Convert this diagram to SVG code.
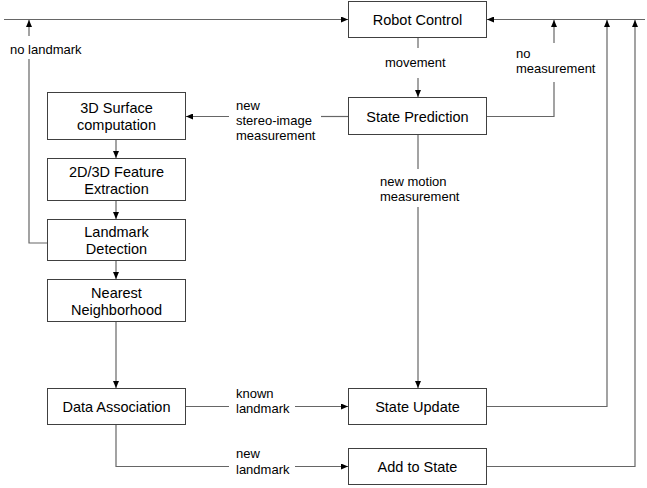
<svg xmlns="http://www.w3.org/2000/svg" width="647" height="488" viewBox="0 0 647 488">
<style>
.box{fill:#fff;stroke:#404040;stroke-width:1}
.t{font-family:"Liberation Sans",Arial,sans-serif;font-size:14.5px;fill:#000;text-anchor:middle}
.l{font-family:"Liberation Sans",Arial,sans-serif;font-size:13px;fill:#000}
.c{fill:none;stroke:#666;stroke-width:1.2}
</style>
<defs>
<marker id="a" markerUnits="userSpaceOnUse" markerWidth="7" markerHeight="6" refX="7" refY="3" orient="auto">
<path d="M0,0 L7,3 L0,6 z" fill="#000"/>
</marker>
</defs>
<g id="connectors">
<path class="c" d="M4,19.5 H348" marker-end="url(#a)"/>
<path class="c" d="M645,19.5 H487" marker-end="url(#a)"/>
<path class="c" d="M418,37 V48"/>
<path class="c" d="M418,78 V97" marker-end="url(#a)"/>
<path class="c" d="M487,116.5 H554 V82"/>
<path class="c" d="M554,43 V20" marker-end="url(#a)"/>
<path class="c" d="M348,116.5 H321"/>
<path class="c" d="M229,116.5 H186" marker-end="url(#a)"/>
<path class="c" d="M418,134 V169"/>
<path class="c" d="M418,207 V388" marker-end="url(#a)"/>
<path class="c" d="M116,140 V158" marker-end="url(#a)"/>
<path class="c" d="M116,201 V219" marker-end="url(#a)"/>
<path class="c" d="M116,261 V279" marker-end="url(#a)"/>
<path class="c" d="M116,322 V388" marker-end="url(#a)"/>
<path class="c" d="M47,243 H29 V59"/>
<path class="c" d="M29,36 V20" marker-end="url(#a)"/>
<path class="c" d="M186,406.5 H229"/>
<path class="c" d="M295,406.5 H348" marker-end="url(#a)"/>
<path class="c" d="M116,424 V466.5 H229"/>
<path class="c" d="M295,466.5 H348" marker-end="url(#a)"/>
<path class="c" d="M487,406.5 H607 V20" marker-end="url(#a)"/>
<path class="c" d="M487,466.5 H635 V20" marker-end="url(#a)"/>
<text class="l" x="10" y="54">no landmark</text>
<text class="l" x="385" y="67">movement</text>
<text class="l" x="516" y="58">no</text>
<text class="l" x="516" y="73">measurement</text>
<text class="l" x="236" y="110">new</text>
<text class="l" x="236" y="125">stereo-image</text>
<text class="l" x="236" y="140">measurement</text>
<text class="l" x="380" y="186">new motion</text>
<text class="l" x="380" y="201">measurement</text>
<text class="l" x="236" y="398">known</text>
<text class="l" x="236" y="413">landmark</text>
<text class="l" x="236" y="458">new</text>
<text class="l" x="236" y="474">landmark</text>
</g>
<g id="robot-control"><rect class="box" x="348.5" y="1.5" width="138" height="36"/><text class="t" x="417.5" y="25">Robot Control</text></g>
<g id="state-prediction"><rect class="box" x="348.5" y="97.5" width="138" height="37"/><text class="t" x="417.5" y="121.5">State Prediction</text></g>
<g id="surface"><rect class="box" x="47.5" y="92.5" width="138" height="47"/><text class="t" x="116.5" y="113">3D Surface</text><text class="t" x="116.5" y="130">computation</text></g>
<g id="feature"><rect class="box" x="47.5" y="158.5" width="138" height="42"/><text class="t" x="116.5" y="177">2D/3D Feature</text><text class="t" x="116.5" y="194">Extraction</text></g>
<g id="landmark"><rect class="box" x="47.5" y="219.5" width="138" height="41"/><text class="t" x="116.5" y="237">Landmark</text><text class="t" x="116.5" y="254">Detection</text></g>
<g id="nearest"><rect class="box" x="47.5" y="279.5" width="138" height="42"/><text class="t" x="116.5" y="298">Nearest</text><text class="t" x="116.5" y="315">Neighborhood</text></g>
<g id="data-association"><rect class="box" x="47.5" y="388.5" width="138" height="36"/><text class="t" x="116.5" y="412">Data Association</text></g>
<g id="state-update"><rect class="box" x="348.5" y="388.5" width="138" height="36"/><text class="t" x="417.5" y="412">State Update</text></g>
<g id="add-to-state"><rect class="box" x="348.5" y="448.5" width="138" height="36"/><text class="t" x="417.5" y="472">Add to State</text></g>
</svg>
